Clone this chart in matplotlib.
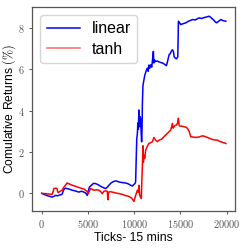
import matplotlib
matplotlib.use("Agg")
import matplotlib.pyplot as plt
from matplotlib.ticker import FuncFormatter

plt.rcParams['mathtext.fontset'] = 'cm'
plt.rcParams['font.family'] = ['Liberation Sans', 'DejaVu Sans']

# ---- data ----
linear_x = [0, 400, 800, 1130, 1300, 1490, 1700, 2030, 2200, 2390, 2550, 2750, 3000, 3300,
            3600, 4020, 4300, 4560, 4750, 4920, 5000, 5170, 5400, 5600, 5820, 6100, 6370,
            6650, 6910, 7100, 7270, 7500, 7810, 8050, 8350, 8700, 9080, 9400, 9620, 9800,
            9950, 10080, 10160, 10220, 10280, 10350, 10400, 10450, 10520, 10560, 10600,
            10650, 10700, 10760, 10810, 10850, 10890, 10950, 11060, 11150, 11250, 11330,
            11430, 11520, 11600, 11700, 11790, 11900, 11980, 12080, 12130, 12200, 12330,
            12500, 12700, 12900, 13060, 13250, 13490, 13600, 13780, 13900, 14000, 14140,
            14250, 14330, 14430, 14580, 14650, 14720, 14790, 14900, 15040, 15300, 15590,
            15800, 16050, 16310, 16600, 17030, 17300, 17600, 17800, 18110, 18300, 18550,
            18750, 18910, 19100, 19380, 19650, 19920]
linear_y = [0.0, -0.08, -0.14, -0.18, -0.15, -0.10, -0.12, -0.07, -0.05, 0.18, 0.25, 0.23,
            0.20, 0.15, 0.12, 0.06, 0.10, 0.06, 0.02, -0.10, 0.05, 0.31, 0.40, 0.48, 0.47,
            0.42, 0.34, 0.28, 0.23, 0.30, 0.39, 0.50, 0.58, 0.60, 0.55, 0.52, 0.50, 0.45,
            0.39, 0.35, 0.42, 0.47, 0.55, 1.60, 2.60, 2.90, 3.40, 3.10, 4.03, 3.30, 3.22,
            3.70, 3.60, 2.90, 2.49, 3.00, 4.30, 5.20, 5.49, 5.70, 5.85, 5.95, 6.05, 5.90,
            6.20, 6.05, 6.21, 6.10, 6.40, 6.86, 6.30, 6.45, 6.37, 6.40, 6.35, 6.32, 6.30,
            6.25, 6.17, 6.35, 6.70, 6.75, 6.85, 6.94, 6.85, 6.60, 6.54, 6.50, 6.55, 6.60,
            8.32, 8.25, 8.16, 8.20, 8.24, 8.30, 8.35, 8.40, 8.38, 8.48, 8.45, 8.50, 8.52,
            8.56, 8.50, 8.40, 8.30, 8.24, 8.30, 8.40, 8.34, 8.32]

tanh_x = [0, 500, 1130, 1250, 1300, 1500, 1670, 1720, 1780, 2000, 2210, 2400, 2570, 2750,
          3000, 3300, 3600, 3840, 4100, 4380, 4600, 4740, 4900, 5030, 5150, 5270, 5450,
          5640, 5900, 6180, 6400, 6550, 6650, 6730, 6900, 7090, 7160, 7220, 7400, 7630,
          7900, 8170, 8450, 8720, 9000, 9200, 9440, 9700, 9980, 10100, 10200, 10350,
          10450, 10520, 10600, 10700, 10780, 10830, 10890, 10950, 11000, 11060, 11150,
          11250, 11400, 11600, 11800, 11970, 12150, 12330, 12500, 12690, 12900, 13060,
          13250, 13420, 13600, 13780, 13950, 14140, 14220, 14320, 14450, 14570, 14700,
          14790, 14860, 14930, 15100, 15410, 15600, 15770, 15950, 16130, 16400, 16670,
          17000, 17390, 17650, 17930, 18200, 18480, 18750, 19020, 19200, 19380, 19650,
          19920]
tanh_y = [0.0, -0.02, -0.05, 0.10, 0.23, 0.25, 0.23, 0.08, 0.03, 0.10, 0.15, 0.30, 0.39,
          0.50, 0.45, 0.39, 0.35, 0.31, 0.27, 0.23, 0.20, 0.15, 0.10, -0.02, 0.10, 0.23,
          0.20, 0.15, 0.17, 0.15, 0.08, -0.02, 0.05, 0.10, 0.12, 0.10, -0.31, 0.05, 0.08,
          0.06, 0.03, 0.00, -0.02, -0.05, -0.10, -0.12, -0.15, -0.22, -0.39, -0.20, -0.05,
          0.15, 0.05, 0.39, -0.10, -0.18, -0.25, 0.60, 1.28, 2.30, 1.50, 1.84, 1.70, 2.09,
          2.25, 2.41, 2.45, 2.49, 2.70, 2.57, 2.50, 2.57, 2.60, 2.65, 2.75, 2.82, 2.90,
          2.98, 3.05, 3.38, 3.15, 3.22, 3.28, 3.30, 3.40, 3.63, 3.30, 3.25, 3.25, 3.22,
          3.20, 3.14, 3.00, 2.73, 2.72, 2.70, 2.72, 2.78, 2.75, 2.70, 2.65, 2.60, 2.58,
          2.57, 2.52, 2.49, 2.45, 2.41]

xtick_vals = [0, 5000, 10000, 15000, 20000]
ytick_vals = [0, 2, 4, 6, 8]

# ---- figure ----
fig = plt.figure(figsize=(2.49, 2.49), dpi=100)
ax = fig.add_axes([0.1305, 0.154, 0.8135, 0.818])

ax.plot(linear_x, linear_y, color='blue', lw=1.1, label='linear')
ax.plot(tanh_x, tanh_y, color='red', lw=1.1, label='tanh')

ax.set_xticks(xtick_vals)
ax.set_yticks(ytick_vals)
fmt = FuncFormatter(lambda v, p: r'$%d$' % int(round(v)))
ax.xaxis.set_major_formatter(fmt)
ax.yaxis.set_major_formatter(fmt)

gray = '#555555'
for s in ax.spines.values():
    s.set_color(gray)
    s.set_linewidth(0.9)
ax.tick_params(axis='both', labelsize=7.4, colors=gray, length=2.5, width=0.7, pad=3)

ax.set_xlabel('Ticks- 15 mins', fontsize=8.8, labelpad=1)
ax.set_ylabel(r'Comulative Returns $(\%)$', fontsize=8.7)
ax.yaxis.set_label_coords(-0.07, 0.5)

leg = ax.legend(loc='upper left', fontsize=11.5, handlelength=2.05, borderaxespad=0.5,
                fancybox=True, framealpha=0.8, edgecolor='#cccccc', borderpad=0.4,
                labelspacing=0.35, handletextpad=0.75)
leg.legend_handles[1].set_alpha(0.6)

fig.savefig('out.png', dpi=100)
